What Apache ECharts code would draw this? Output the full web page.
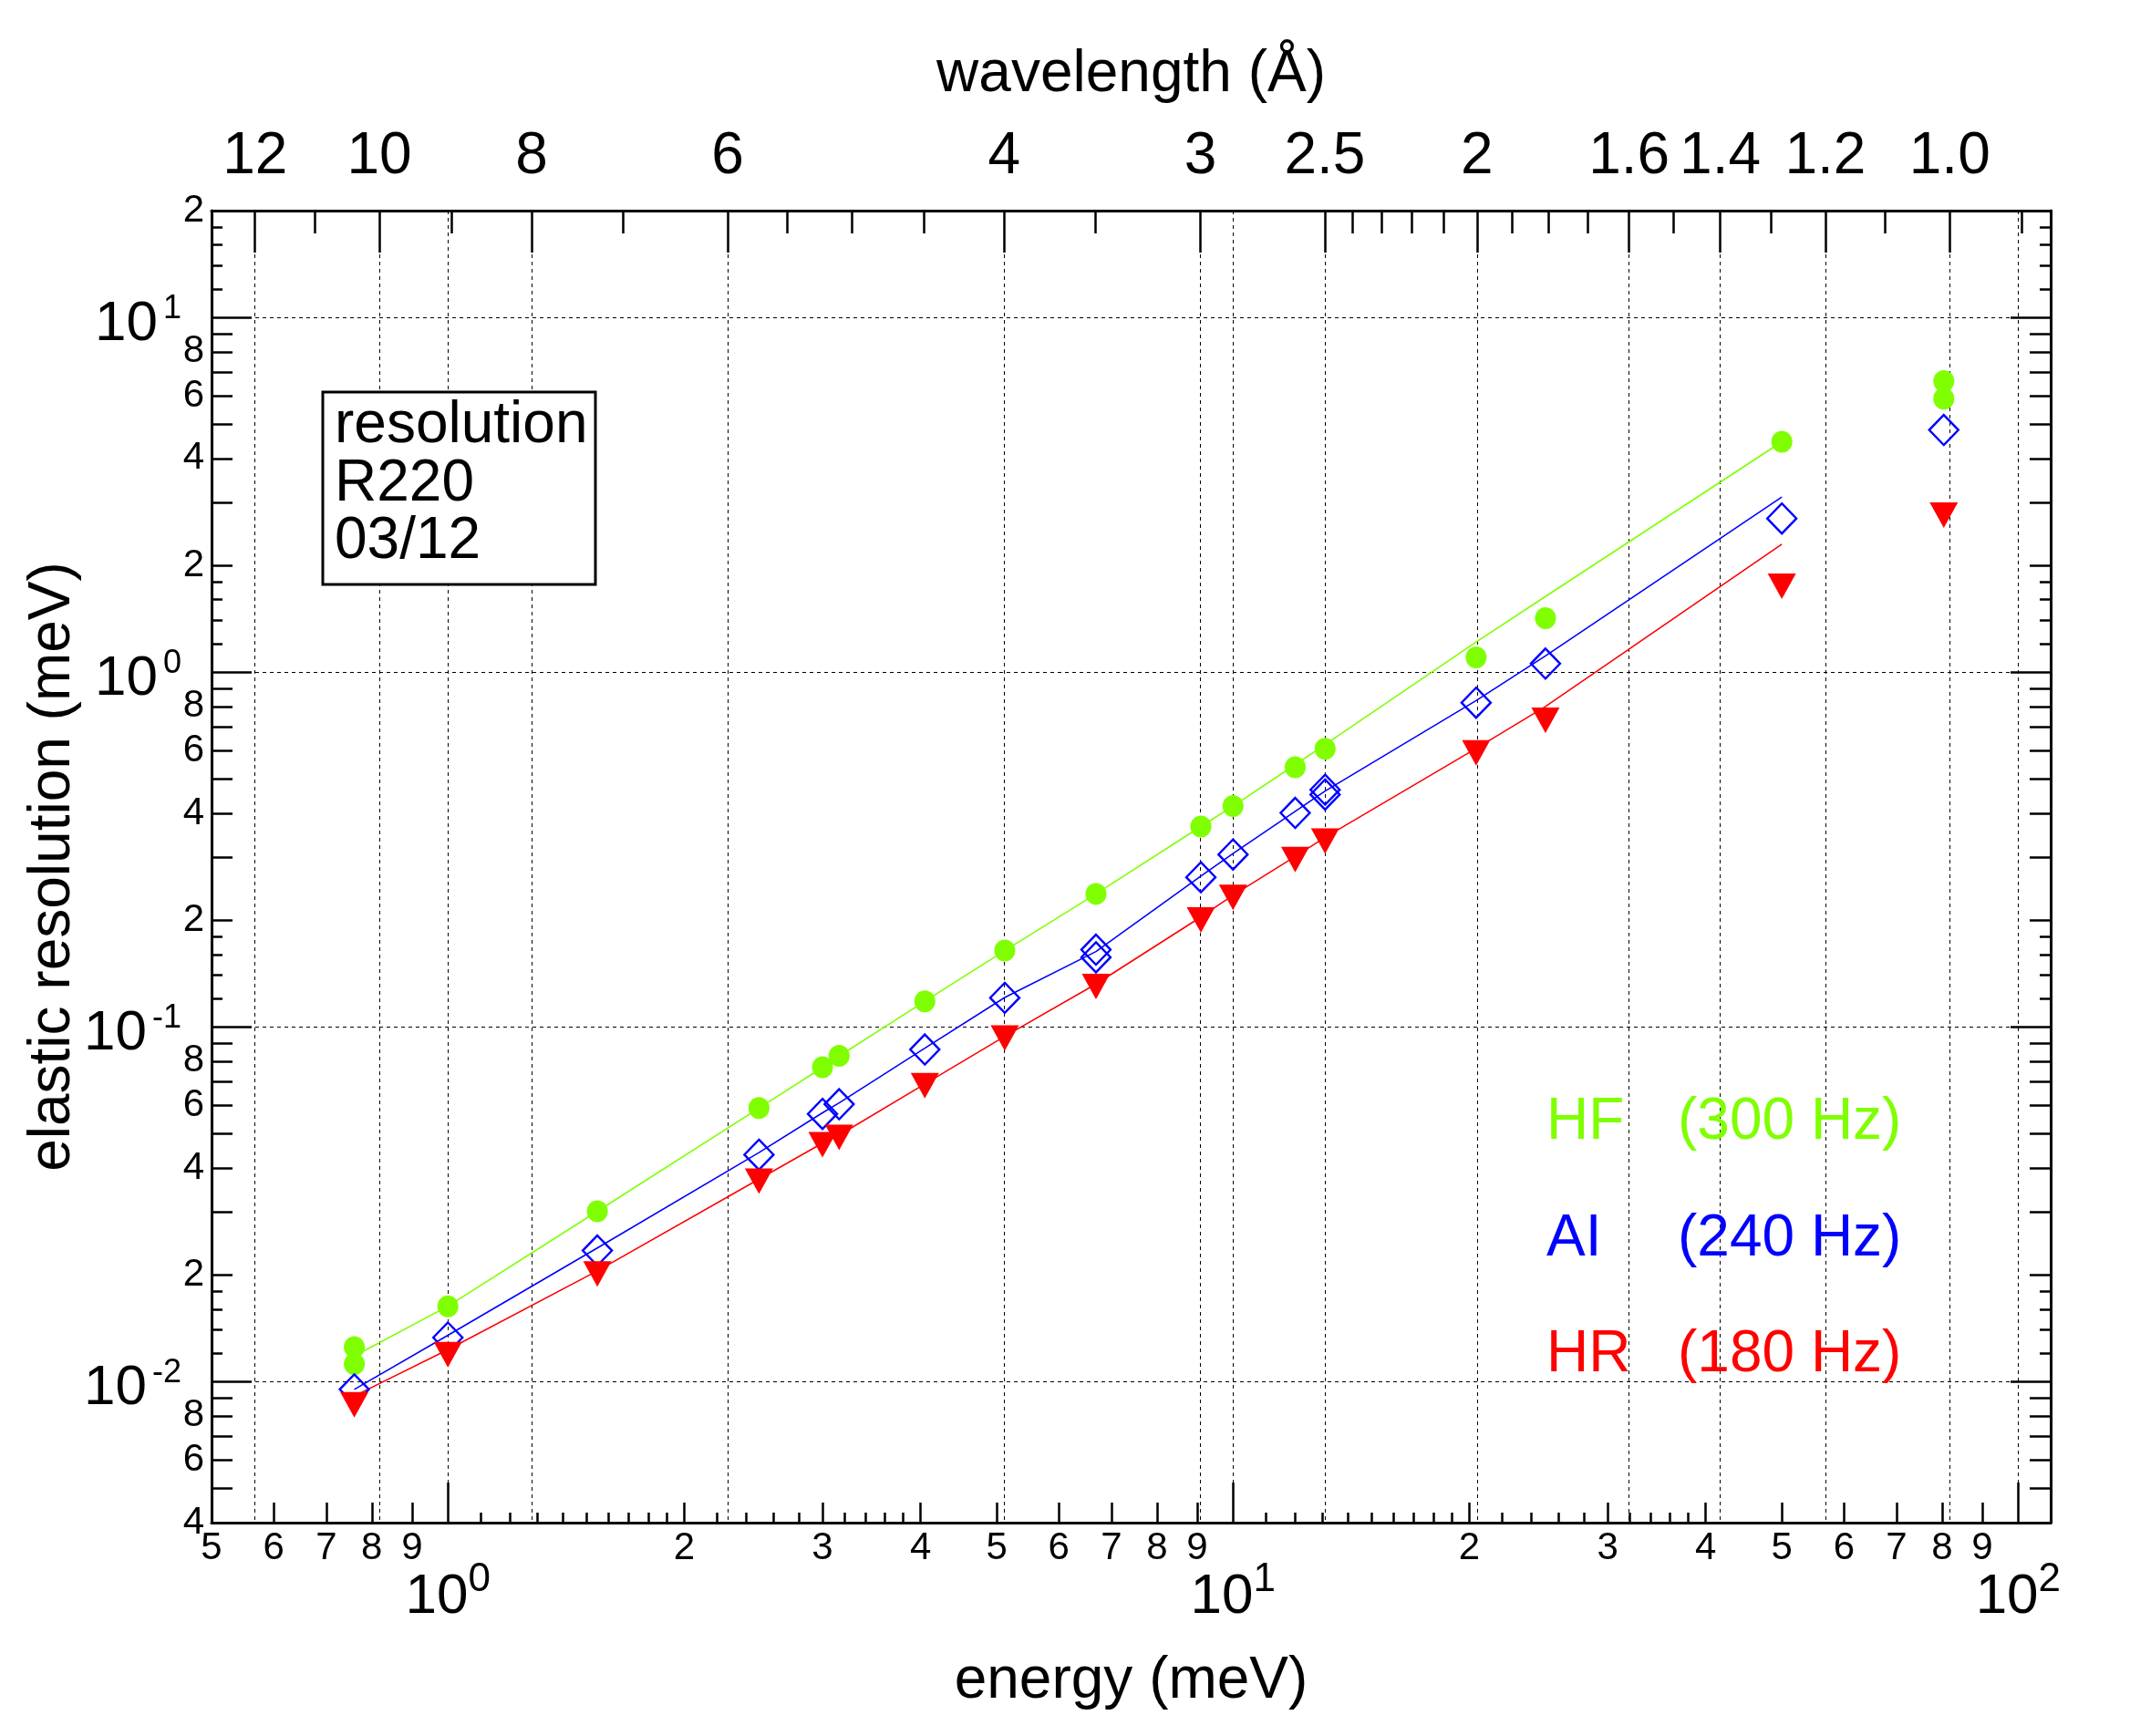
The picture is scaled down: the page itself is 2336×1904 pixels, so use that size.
<!DOCTYPE html>
<html><head><meta charset="utf-8">
<script src="https://cdn.jsdelivr.net/npm/echarts@6/dist/echarts.min.js"></script>
<style>html,body{margin:0;padding:0;background:#fff}#c{width:2336px;height:1904px}</style>
</head><body><div id="c"></div>
<script>
// ---------------- data ----------------
const energyHF = [0.76, 0.76, 1.0, 1.55, 2.49, 3.0, 3.15, 4.05, 5.12, 6.69, 9.1, 10.0, 12.0, 13.1, 20.4, 25.0, 50.0, 80.4, 80.4];
const resHF    = [0.0125, 0.0112, 0.0163, 0.0302, 0.059, 0.0769, 0.0828, 0.118, 0.164, 0.237, 0.367, 0.419, 0.539, 0.608, 1.10, 1.42, 4.46, 6.61, 5.90];

const energyAI = [0.76, 1.0, 1.55, 2.49, 3.0, 3.15, 4.05, 5.12, 6.69, 6.69, 9.1, 10.0, 12.0, 13.1, 13.1, 20.4, 25.0, 50.0, 80.4];
const resAI    = [0.0095, 0.0133, 0.0234, 0.0436, 0.0568, 0.0605, 0.0863, 0.1207, 0.165, 0.157, 0.264, 0.306, 0.401, 0.4515, 0.466, 0.82, 1.057, 2.71, 4.815];

const energyHR = [0.76, 1.0, 1.55, 2.49, 3.0, 3.15, 4.05, 5.12, 6.69, 9.1, 10.0, 12.0, 13.1, 20.4, 25.0, 50.0, 80.4];
const resHR    = [0.0086, 0.0119, 0.0201, 0.0367, 0.0465, 0.0488, 0.0682, 0.0929, 0.1298, 0.2002, 0.2317, 0.296, 0.334, 0.592, 0.731, 1.747, 2.77];

// calculated resolution curves
const curveE  = [0.76, 1.0, 1.55, 2.49, 3.0, 3.15, 4.05, 5.12, 6.69, 9.1, 10.0, 12.0, 13.1, 20.4, 25.0, 50.0];
const curveHF = [0.0118, 0.0163, 0.0302, 0.059, 0.0768, 0.0827, 0.118, 0.164, 0.237, 0.367, 0.419, 0.548, 0.625, 1.216, 1.633, 4.46];
const curveAI = [0.0095, 0.0135, 0.0238, 0.0442, 0.0572, 0.061, 0.087, 0.121, 0.163, 0.266, 0.308, 0.405, 0.462, 0.831, 1.111, 3.115];
const curveHR = [0.0091, 0.0123, 0.0205, 0.0372, 0.047, 0.0495, 0.069, 0.094, 0.132, 0.204, 0.235, 0.302, 0.342, 0.609, 0.80, 2.294];

// axis ticks / labels
const lambdaMajor = [12, 10, 8, 6, 4, 3, 2.5, 2, 1.6, 1.4, 1.2, 1.0];
const lambdaMajorLabels = ['12', '10', '8', '6', '4', '3', '2.5', '2', '1.6', '1.4', '1.2', '1.0'];
const lambdaMinor = [11, 9, 7, 5.5, 5, 4.5, 3.5, 2.4, 2.3, 2.2, 2.1, 1.9, 1.8, 1.7, 1.5, 1.3, 1.1, 0.9];

const xMajorTicks  = [1, 10, 100];
const xMediumTicks = [0.6, 0.7, 0.8, 0.9, 2, 3, 4, 5, 6, 7, 8, 9, 20, 30, 40, 50, 60, 70, 80, 90];
const xLabelValues = [0.5, 0.6, 0.7, 0.8, 0.9, 2, 3, 4, 5, 6, 7, 8, 9, 20, 30, 40, 50, 60, 70, 80, 90];
const xSmallTicks  = [1.1, 1.2, 1.3, 1.4, 1.5, 1.6, 1.7, 1.8, 1.9, 2.2, 2.4, 2.6, 2.8, 3.2, 3.4, 3.6, 3.8,
                      11, 12, 13, 14, 15, 16, 17, 18, 19, 22, 24, 26, 28, 32, 34, 36, 38];

const yMajorTicks  = [0.01, 0.1, 1, 10];
const yMediumTicks = [0.005, 0.006, 0.007, 0.008, 0.009, 0.02, 0.03, 0.04, 0.05, 0.06, 0.07, 0.08, 0.09,
                      0.2, 0.3, 0.4, 0.5, 0.6, 0.7, 0.8, 0.9, 2, 3, 4, 5, 6, 7, 8, 9, 20];
const yLabelValues = [0.004, 0.006, 0.008, 0.02, 0.04, 0.06, 0.08, 0.2, 0.4, 0.6, 0.8, 2, 4, 6, 8, 20];
const ySmallTicks  = [0.012, 0.014, 0.016, 0.018, 0.12, 0.14, 0.16, 0.18, 1.2, 1.4, 1.6, 1.8, 12, 14, 16, 18];

// ---------------- helpers ----------------
const E_LAMBDA = 81.804; // E[meV] = 81.804 / lambda[Å]^2
const lamToE = l => E_LAMBDA / (l * l);
const FONT = '"Liberation Sans", Arial, Helvetica, sans-serif';
const X_MIN = 0.5, X_MAX = 110, Y_MIN = 0.004, Y_MAX = 20;
const lead = v => { const e = Math.floor(Math.log10(v) + 1e-9); return String(Math.round(v / Math.pow(10, e))); };
const pow10Label = v => '{b|10}{s|' + Math.round(Math.log10(v)) + '}';
const lamLabel = v => {
  let best = 0, bd = Infinity;
  lambdaMajor.forEach((l, i) => { const d = Math.abs(Math.log(lamToE(l) / v)); if (d < bd) { bd = d; best = i; } });
  return lambdaMajorLabels[best];
};
const pairs = (xs, ys) => xs.map((x, i) => [x, ys[i]]);
const BLK = '#000';
const dashed = { show: true, lineStyle: { color: BLK, width: 1, type: [4, 4] } };
const noLine = { show: false };
const tick = (vals, len) => ({ show: true, inside: true, length: len, customValues: vals, lineStyle: { color: BLK, width: 2.5 } });
const frame = { show: true, onZero: false, lineStyle: { color: BLK, width: 3 } };

function xAx(grid, pos, extra) {
  return Object.assign({ gridIndex: grid, type: 'log', logBase: 10, min: X_MIN, max: X_MAX, position: pos,
    axisLine: noLine, axisTick: { show: false }, axisLabel: { show: false }, splitLine: { show: false },
    minorTick: { show: false }, minorSplitLine: { show: false } }, extra);
}
function yAx(grid, pos, extra) {
  return Object.assign({ gridIndex: grid, type: 'log', logBase: 10, min: Y_MIN, max: Y_MAX, position: pos,
    axisLine: noLine, axisTick: { show: false }, axisLabel: { show: false }, splitLine: { show: false },
    minorTick: { show: false }, minorSplitLine: { show: false } }, extra);
}
const gridRect = { left: 232, right: 87, top: 231, bottom: 234, containLabel: false, outerBoundsMode: 'none' };

const xAxis = [
  xAx(0, 'bottom', {
    axisLine: frame, axisTick: tick(xMediumTicks, 22),
    axisLabel: { show: true, customValues: xLabelValues, formatter: lead, fontSize: 42, fontFamily: FONT, color: BLK, margin: 7 },
    name: 'energy (meV)', nameLocation: 'middle', nameGap: 142,
    nameTextStyle: { fontSize: 64, fontFamily: FONT, color: BLK }
  }),
  xAx(0, 'top', {
    axisLine: frame, axisTick: tick(lambdaMajor.map(lamToE), 46),
    axisLabel: { show: true, customValues: lambdaMajor.map(lamToE), formatter: lamLabel, fontSize: 64, fontFamily: FONT, color: BLK, margin: 27 },
    splitLine: dashed,
    name: 'wavelength (Å)', nameLocation: 'middle', nameGap: 117,
    nameTextStyle: { fontSize: 64, fontFamily: FONT, color: BLK }
  }),
  xAx(1, 'bottom', { axisTick: tick(xSmallTicks, 11) }),
  xAx(1, 'top', { axisTick: tick(lambdaMinor.map(lamToE), 25) }),
  xAx(2, 'bottom', {
    axisTick: tick(xMajorTicks, 44), splitLine: dashed,
    axisLabel: { show: true, customValues: xMajorTicks, formatter: pow10Label, margin: 41,
      rich: {
        b: { fontSize: 62, fontFamily: FONT, color: BLK, lineHeight: 62, padding: [20, 0, 0, 0] },
        s: { fontSize: 44, fontFamily: FONT, color: BLK, lineHeight: 44, verticalAlign: 'top' }
      } }
  })
];

const yAxis = [
  yAx(0, 'left', {
    axisLine: frame, axisTick: tick(yMediumTicks, 23),
    axisLabel: { show: true, customValues: yLabelValues, formatter: lead, fontSize: 42, fontFamily: FONT, color: BLK, margin: 8 },
    name: 'elastic resolution (meV)', nameLocation: 'middle', nameGap: 142, nameRotate: 90,
    nameTextStyle: { fontSize: 64, fontFamily: FONT, color: BLK }
  }),
  yAx(0, 'right', { axisLine: frame, axisTick: tick(yMediumTicks, 23) }),
  yAx(1, 'left', { axisTick: tick(ySmallTicks, 12) }),
  yAx(1, 'right', { axisTick: tick(ySmallTicks, 12) }),
  yAx(2, 'left', {
    axisTick: tick(yMajorTicks, 44), splitLine: dashed,
    axisLabel: { show: true, customValues: yMajorTicks, formatter: pow10Label, margin: 33,
      rich: {
        b: { fontSize: 62, fontFamily: FONT, color: BLK, lineHeight: 62, padding: [16, 0, 0, 0] },
        s: { fontSize: 36, fontFamily: FONT, color: BLK, lineHeight: 36, verticalAlign: 'top', padding: [4, 0, 0, 6] }
      } }
  }),
  yAx(2, 'right', { axisTick: tick(yMajorTicks, 44) })
];

const GREEN = '#7fff00', BLUE = '#0000ff', RED = '#ff0000';
const curve = (name, xs, ys, color) => ({
  name, type: 'line', xAxisIndex: 0, yAxisIndex: 0, data: pairs(xs, ys), showSymbol: false, symbol: 'none',
  lineStyle: { color, width: 1.6, opacity: 1 }, z: 2, silent: true
});

const T = (text, x, y, fill) => ({ type: 'text', x, y, z: 51,
  style: { text, font: '64px ' + FONT, fill, verticalAlign: 'middle' } });

const option = {
  backgroundColor: '#fff',
  animation: false,
  grid: [Object.assign({}, gridRect), Object.assign({}, gridRect), Object.assign({}, gridRect)],
  xAxis, yAxis,
  series: [
    curve('HF calc', curveE, curveHF, GREEN),
    curve('AI calc', curveE, curveAI, BLUE),
    curve('HR calc', curveE, curveHR, RED),
    { name: 'HF (300 Hz)', type: 'scatter', xAxisIndex: 0, yAxisIndex: 0, data: pairs(energyHF, resHF),
      symbol: 'circle', symbolSize: [23, 24], itemStyle: { color: GREEN, opacity: 1 }, z: 5 },
    { name: 'AI (240 Hz)', type: 'scatter', xAxisIndex: 0, yAxisIndex: 0, data: pairs(energyAI, resAI),
      symbol: 'diamond', symbolSize: [32, 33], itemStyle: { color: 'rgba(255,255,255,0)', borderColor: BLUE, borderWidth: 2.4, opacity: 1 }, z: 5 },
    { name: 'HR (180 Hz)', type: 'scatter', xAxisIndex: 0, yAxisIndex: 0, data: pairs(energyHR, resHR),
      symbol: 'triangle', symbolRotate: 180, symbolSize: [31, 28], itemStyle: { color: RED, opacity: 1 }, z: 5 }
  ],
  graphic: [
    { type: 'rect', shape: { x: 354, y: 430, width: 299, height: 211 }, style: { fill: '#fff', stroke: BLK, lineWidth: 3 }, z: 50 },
    T('resolution', 367, 467, BLK),
    T('R220', 367, 531, BLK),
    T('03/12', 367, 594, BLK),
    T('HF', 1696, 1231, GREEN),
    T('(300 Hz)', 1840, 1231, GREEN),
    T('AI', 1696, 1359, BLUE),
    T('(240 Hz)', 1840, 1359, BLUE),
    T('HR', 1696, 1486, RED),
    T('(180 Hz)', 1840, 1486, RED)
  ]
};

const chart = echarts.init(document.getElementById('c'), null, { renderer: 'canvas', width: 2336, height: 1904 });
chart.setOption(option);
</script>
</body></html>
